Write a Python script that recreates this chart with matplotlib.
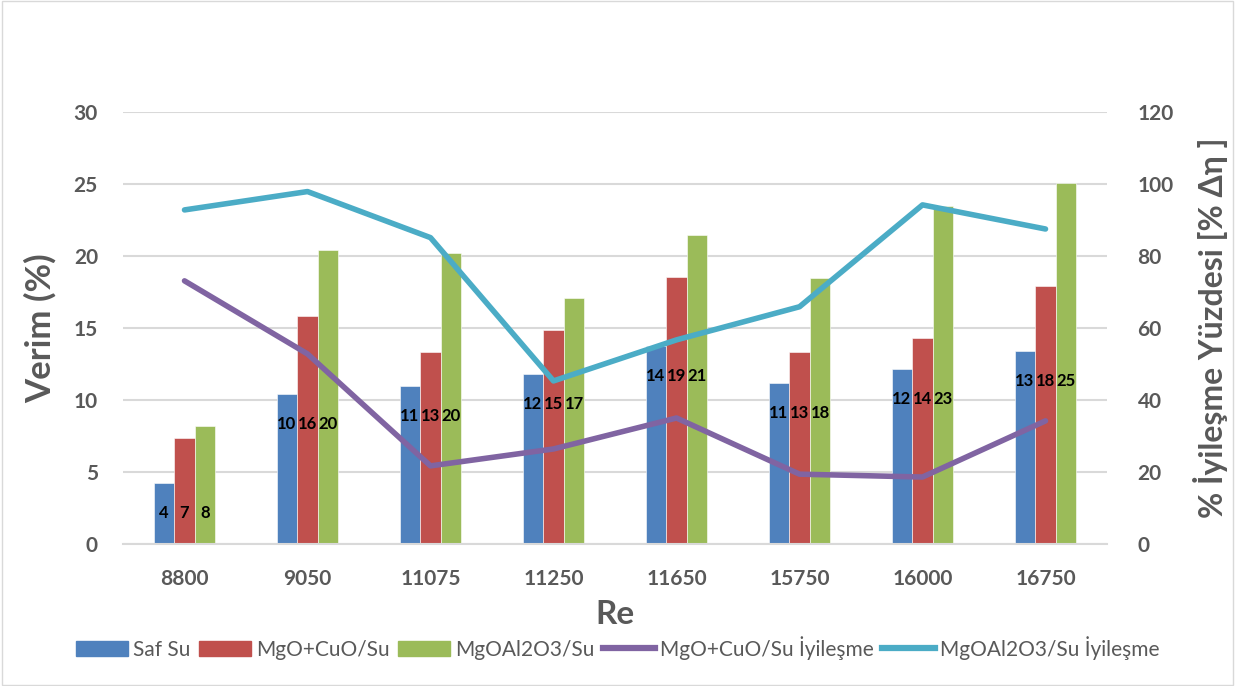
import matplotlib

matplotlib.use("Agg")

import matplotlib.pyplot as plt
import numpy as np
from matplotlib.lines import Line2D
from matplotlib.patches import Patch, Rectangle

re_labels = ["8800", "9050", "11075", "11250", "11650", "15750", "16000", "16750"]
saf_su = [4.24, 10.4, 10.97, 11.8, 13.75, 11.2, 12.15, 13.4]
mgo_cuo = [7.38, 15.8, 13.3, 14.86, 18.55, 13.3, 14.3, 17.9]
mgo_al2o3 = [8.19, 20.45, 20.2, 17.1, 21.45, 18.45, 23.45, 25.07]
mgo_cuo_gain = [73.1, 52.8, 21.7, 26.4, 35.0, 19.4, 18.6, 34.2]
mgo_al2o3_gain = [92.8, 97.9, 85.1, 45.3, 56.7, 65.9, 94.2, 87.5]

plt.rcParams["font.family"] = ["Lato", "DejaVu Sans"]
GRAY = "#595959"
BLUE, RED, GREEN = "#4f81bd", "#c0504d", "#9bbb59"
PURPLE, CYAN = "#8064a2", "#4bacc6"

fig = plt.figure(figsize=(12.35, 6.86), dpi=100)
ax = fig.add_axes([123 / 1235, 1 - 544 / 686, (1107 - 123) / 1235, (544 - 112) / 686])
ax2 = ax.twinx()

x = np.arange(len(re_labels))
w = 0.167
series = [(saf_su, BLUE, "Saf Su"), (mgo_cuo, RED, "MgO+CuO/Su"), (mgo_al2o3, GREEN, "MgOAl2O3/Su")]
for i, (vals, col, name) in enumerate(series):
    ax.bar(x + (i - 1) * w, vals, w, color=col, edgecolor="white", linewidth=0.4, zorder=2)
    for xi, v, base in zip(x, vals, saf_su):
        # labels sit a bit below the Saf Su bar top, same height for the whole group
        ax.text(xi + (i - 1) * w, base - 2.1, f"{int(v + 0.5)}", ha="center", va="center",
                fontsize=12, fontweight="bold", color="black", zorder=5)

ax2.plot(x, mgo_cuo_gain, color=PURPLE, lw=4, solid_capstyle="round", zorder=3)
ax2.plot(x, mgo_al2o3_gain, color=CYAN, lw=4, solid_capstyle="round", zorder=3)

ax.set_xlim(-0.5, len(re_labels) - 0.5)
ax.set_ylim(0, 30)
ax2.set_ylim(0, 120)
ax.set_yticks(range(0, 31, 5))
ax2.set_yticks(range(0, 121, 20))
ax.set_xticks(x)
ax.set_xticklabels(re_labels)
ax.grid(axis="y", color="#d9d9d9", lw=1.5, zorder=0)
ax.set_axisbelow(True)
for a in (ax, ax2):
    for s in a.spines.values():
        s.set_visible(False)
    a.tick_params(length=0, labelsize=15, labelcolor=GRAY)
    for t in a.get_xticklabels() + a.get_yticklabels():
        t.set_fontweight("bold")
ax.spines["bottom"].set_visible(True)
ax.spines["bottom"].set_color("#d9d9d9")
ax.spines["bottom"].set_linewidth(1.5)
ax.tick_params(axis="x", pad=18)
ax.tick_params(axis="y", pad=18)
ax2.tick_params(axis="y", pad=22)

ax.set_ylabel("Verim (%)", fontsize=25, fontweight="bold", color=GRAY, labelpad=12)
ax2.set_ylabel("% İyileşme Yüzdesi [% Δη ]", fontsize=23, fontweight="bold", color=GRAY, labelpad=14)
ax.set_xlabel("Re", fontsize=24, fontweight="bold", color=GRAY, labelpad=8)

handles = [Patch(color=BLUE), Patch(color=RED), Patch(color=GREEN),
           Line2D([], [], color=PURPLE, lw=4.5), Line2D([], [], color=CYAN, lw=4.5)]
names = ["Saf Su", "MgO+CuO/Su", "MgOAl2O3/Su", "MgO+CuO/Su İyileşme", "MgOAl2O3/Su İyileşme"]
fig.legend(handles, names, loc="center", bbox_to_anchor=(0.5, 1 - 648 / 686), ncol=5, frameon=False,
           fontsize=15, labelcolor=GRAY, handlelength=2.5, handleheight=0.75, columnspacing=0.4,
           handletextpad=0.25)

fig.patches.append(Rectangle((0.002, 0.002), 0.996, 0.996, transform=fig.transFigure,
                             fill=False, edgecolor="#d9d9d9", lw=1))

fig.savefig("out.png", dpi=100)
plt.close(fig)
